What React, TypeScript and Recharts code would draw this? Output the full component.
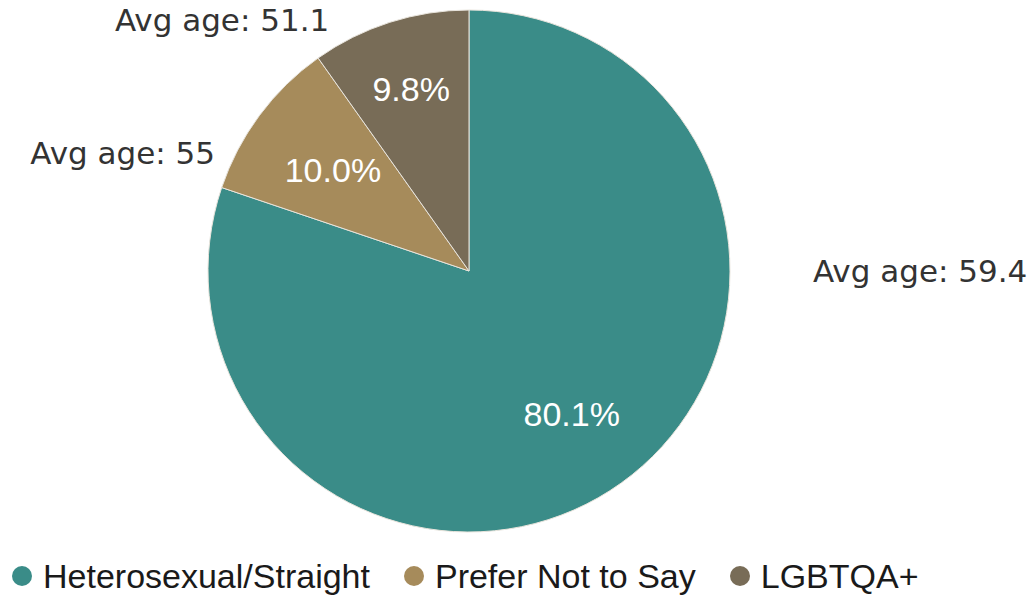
import React from "react";
import { PieChart, Pie, Cell, Legend } from "recharts";

const categories = ["Heterosexual/Straight", "Prefer Not to Say", "LGBTQA+"];
const shares = [80.1, 10.0, 9.8];
const avgAges = ["59.4", "55", "51.1"];
const colors = ["#3a8c88", "#a68b5b", "#786c57"];

const data = categories.map((name, i) => ({ name, value: shares[i], avg: avgAges[i] }));

// label placement, relative to centre in units of the radius
const innerFactor = [0.675, 0.65, 0.73];
const outerPlace = [
  { fx: 1.318, fy: 0, anchor: "start" },
  { fx: -0.973, fy: -0.452, anchor: "end" },
  { fx: -0.946, fy: -0.962, anchor: "middle" },
];

const RAD = Math.PI / 180;

const renderLabel = (props: any) => {
  const { cx, cy, midAngle, outerRadius, index, value } = props;
  const r = outerRadius * innerFactor[index];
  const px = cx + r * Math.cos(-midAngle * RAD);
  const py = cy + r * Math.sin(-midAngle * RAD);
  const p = outerPlace[index];
  return (
    <g>
      <text
        x={px}
        y={py}
        fill="#ffffff"
        textAnchor="middle"
        dominantBaseline="central"
        fontFamily="'Liberation Sans', Arial, sans-serif"
        fontSize={34}
      >
        {Number(value).toFixed(1)}%
      </text>
      <text
        x={cx + p.fx * outerRadius}
        y={cy + p.fy * outerRadius}
        fill="#333333"
        textAnchor={p.anchor}
        dominantBaseline="central"
        fontFamily="'DejaVu Sans', sans-serif"
        fontSize={31}
      >
        Avg age: {data[index].avg}
      </text>
    </g>
  );
};

const renderLegend = () => (
  <div
    style={{
      display: "flex",
      alignItems: "center",
      height: 36,
      lineHeight: "36px",
      fontFamily: "'Liberation Sans', Arial, sans-serif",
      fontSize: 34,
      color: "#1a1a1a",
      whiteSpace: "nowrap",
    }}
  >
    {categories.map((c, i) => (
      <div key={c} style={{ display: "flex", alignItems: "center", marginRight: 34 }}>
        <span
          style={{
            display: "inline-block",
            width: 20,
            height: 20,
            borderRadius: 10,
            background: colors[i],
            marginRight: 11,
          }}
        />
        <span>{c}</span>
      </div>
    ))}
  </div>
);

export default function App() {
  return (
    <div style={{ width: 1013, height: 579, position: "relative" }}>
      <div style={{ position: "fixed", left: 0, top: 0, width: 1029, height: 595, background: "#ffffff" }}>
        <PieChart width={1029} height={595} margin={{ top: 0, right: 0, bottom: 0, left: 0 }}>
          <Pie
            data={data}
            dataKey="value"
            nameKey="name"
            cx={469}
            cy={271}
            innerRadius={0}
            outerRadius={261}
            startAngle={90}
            endAngle={-270}
            stroke="#e8e4dc"
            strokeWidth={1}
            label={renderLabel}
            labelLine={false}
            isAnimationActive={false}
          >
            {data.map((d, i) => (
              <Cell key={d.name} fill={colors[i]} />
            ))}
          </Pie>
          <Legend
            content={renderLegend}
            wrapperStyle={{ position: "absolute", left: 12, top: 558, width: 1000, height: 36, overflow: "visible" }}
          />
        </PieChart>
      </div>
    </div>
  );
}
